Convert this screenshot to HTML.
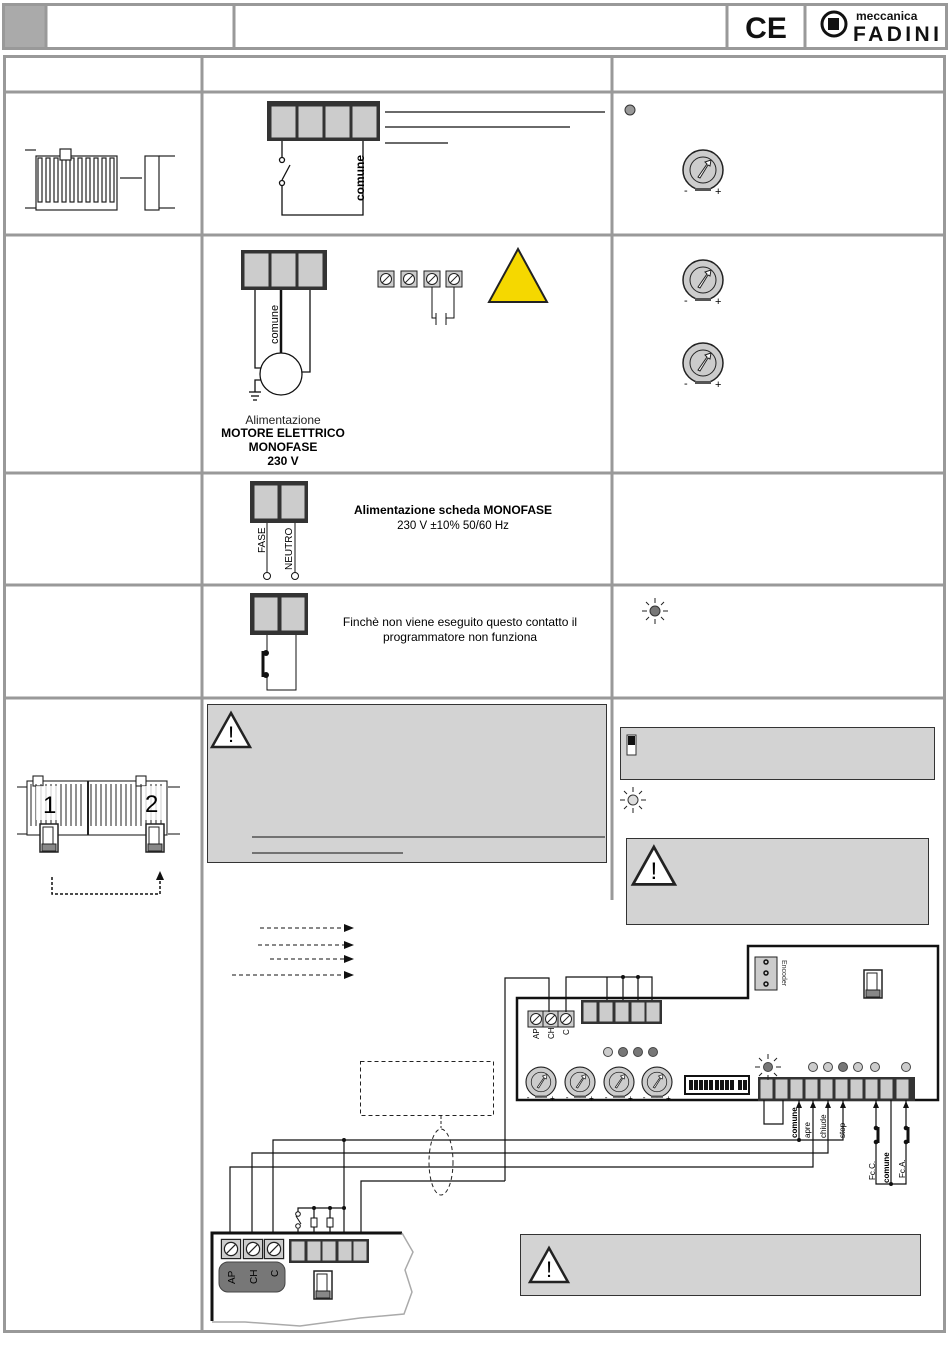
<!DOCTYPE html>
<html><head><meta charset="utf-8"><style>
html,body{margin:0;padding:0;background:#fff}
svg{display:block}
text{font-family:"Liberation Sans",sans-serif}
</style></head><body>
<svg width="950" height="1360" viewBox="0 0 950 1360" xmlns="http://www.w3.org/2000/svg">
<defs>
<g id="trim">
<circle r="20" fill="#ccc" stroke="#222" stroke-width="1.5"/>
<circle r="13" fill="#ccc" stroke="#222" stroke-width="1"/>
<path d="M-5,7 L4,-6 L2,-8 L8,-10 L7,-4 L5,-5 L-3,8 Z" fill="#fff" stroke="#222" stroke-width="1"/>
<rect x="-8" y="18" width="16" height="3" fill="#555"/>
<text x="-19" y="24" font-size="11">-</text><text x="12" y="25" font-size="11">+</text>
</g>
<g id="screw"><rect x="-8" y="-8" width="16" height="16" fill="#ccc" stroke="#222"/><circle r="5.5" fill="#fff" stroke="#222"/><line x1="-4" y1="4" x2="4" y2="-4" stroke="#222"/></g>
<g id="rays" stroke="#222" stroke-width="1"><line x1="-13" y1="0" x2="-8" y2="0"/><line x1="8" y1="0" x2="13" y2="0"/><line x1="-9" y1="-9" x2="-6" y2="-6"/><line x1="9" y1="-9" x2="6" y2="-6"/><line x1="-9" y1="9" x2="-6" y2="6"/><line x1="9" y1="9" x2="6" y2="6"/><line x1="0" y1="-13" x2="0" y2="-8"/><line x1="0" y1="13" x2="0" y2="8"/></g>
<g id="motorsym"><rect x="0" y="0" width="18" height="28" fill="#fff" stroke="#222" stroke-width="1.5"/><rect x="3" y="3" width="10" height="18" fill="none" stroke="#222"/><rect x="2" y="20" width="14" height="7" fill="#888" stroke="#222"/></g>
<g id="warn"><path d="M19,0 L38,34 L0,34 Z" fill="#fff" stroke="#222" stroke-width="2.5"/><text x="19" y="29" font-size="22" text-anchor="middle">!</text></g>
</defs>

<rect x="2" y="3" width="44" height="46" fill="#aaa"/>
<rect x="3.5" y="4.5" width="943" height="44" fill="none" stroke="#999" stroke-width="3"/>
<line x1="46" y1="4" x2="46" y2="48" stroke="#999" stroke-width="3"/>
<line x1="234" y1="4" x2="234" y2="48" stroke="#999" stroke-width="3"/>
<line x1="727" y1="4" x2="727" y2="48" stroke="#999" stroke-width="3"/>
<line x1="805" y1="4" x2="805" y2="48" stroke="#999" stroke-width="3"/>
<text x="766" y="38" font-size="30" text-anchor="middle" font-weight="bold" fill="#111">CE</text>
<circle cx="834" cy="24" r="12" fill="#fff" stroke="#111" stroke-width="3"/>
<rect x="828" y="18" width="11" height="12" fill="#111"/>
<text x="856" y="20" font-size="12" font-weight="bold" fill="#111">meccanica</text>
<text x="853" y="41" font-size="21" font-weight="bold" fill="#111" textLength="86" lengthAdjust="spacing">FADINI</text>

<rect x="4.5" y="56.5" width="940" height="1275" fill="none" stroke="#999" stroke-width="3"/>
<g stroke="#999" stroke-width="3">
<line x1="202" y1="56" x2="202" y2="1332"/>
<line x1="612" y1="56" x2="612" y2="900"/>
<line x1="4" y1="92" x2="945" y2="92"/>
<line x1="4" y1="235" x2="945" y2="235"/>
<line x1="4" y1="473" x2="945" y2="473"/>
<line x1="4" y1="585" x2="945" y2="585"/>
<line x1="4" y1="698" x2="945" y2="698"/>
</g>

<g stroke="#222" fill="#fff" stroke-width="1.2">
<line x1="25" y1="150" x2="36" y2="150"/><line x1="25" y1="208" x2="36" y2="208"/>
<rect x="36" y="156" width="81" height="54"/>
<rect x="38" y="158" width="4" height="44"/><rect x="46" y="158" width="4" height="44"/><rect x="54" y="158" width="4" height="44"/><rect x="62" y="158" width="4" height="44"/><rect x="70" y="158" width="4" height="44"/><rect x="78" y="158" width="4" height="44"/><rect x="86" y="158" width="4" height="44"/><rect x="94" y="158" width="4" height="44"/><rect x="102" y="158" width="4" height="44"/><rect x="110" y="158" width="4" height="44"/>
<rect x="60" y="149" width="11" height="11"/>
<rect x="145" y="156" width="14" height="54"/>
<line x1="159" y1="156" x2="175" y2="156"/><line x1="159" y1="208" x2="175" y2="208"/>
<line x1="120" y1="178" x2="142" y2="178"/>
</g>
<rect x="267" y="101" width="113" height="40" fill="#333"/>
<g fill="#ccc" stroke="#333"><rect x="271" y="106" width="25" height="32"/><rect x="298" y="106" width="25" height="32"/><rect x="325" y="106" width="25" height="32"/><rect x="352" y="106" width="25" height="32"/></g>
<g stroke="#111" stroke-width="1.3" fill="none">
<line x1="385" y1="112" x2="605" y2="112"/><line x1="385" y1="127" x2="570" y2="127"/><line x1="385" y1="143" x2="448" y2="143"/>
<polyline points="282,141 282,157"/><circle cx="282" cy="160" r="2.5"/><line x1="282" y1="180" x2="290" y2="165"/><circle cx="282" cy="183" r="2.5"/>
<polyline points="282,186 282,215 363,215 363,141"/>
</g>
<text transform="translate(364,201) rotate(-90)" font-size="12" font-weight="bold">comune</text>
<circle cx="630" cy="110" r="5" fill="#999" stroke="#333"/>
<use href="#trim" x="703" y="170"/>

<rect x="241" y="250" width="86" height="40" fill="#333"/>
<g fill="#ccc" stroke="#333"><rect x="244" y="253" width="25" height="34"/><rect x="271" y="253" width="25" height="34"/><rect x="298" y="253" width="25" height="34"/></g>
<g stroke="#111" stroke-width="1.3" fill="none">
<polyline points="255,290 255,368 261,368"/><line x1="281" y1="290" x2="281" y2="353" stroke-width="2.5"/><polyline points="310,290 310,372 302,372"/>
<circle cx="281" cy="374" r="21" fill="#fff"/>
<polyline points="261,380 255,380 255,392"/><line x1="249" y1="392" x2="261" y2="392"/><line x1="251" y1="396" x2="259" y2="396"/><line x1="253" y1="400" x2="257" y2="400"/>
</g>
<text transform="translate(278,344) rotate(-90)" font-size="11">comune</text>
<text x="283" y="424" font-size="12" text-anchor="middle" fill="#222">Alimentazione</text>
<text x="283" y="437" font-size="12" text-anchor="middle" font-weight="bold">MOTORE ELETTRICO</text>
<text x="283" y="451" font-size="12" text-anchor="middle" font-weight="bold">MONOFASE</text>
<text x="283" y="465" font-size="12" text-anchor="middle" font-weight="bold">230 V</text>
<use href="#screw" x="386" y="279"/><use href="#screw" x="409" y="279"/><use href="#screw" x="432" y="279"/><use href="#screw" x="454" y="279"/>
<g stroke="#111" fill="none"><polyline points="432,287 432,318 436,318"/><polyline points="454,287 454,318 446,318"/><line x1="436" y1="313" x2="436" y2="325"/><line x1="446" y1="313" x2="446" y2="325"/></g>
<path d="M518,249 L547,302 L489,302 Z" fill="#f5d800" stroke="#222" stroke-width="2"/>
<use href="#trim" x="703" y="280"/>
<use href="#trim" x="703" y="363"/>

<rect x="250" y="481" width="58" height="42" fill="#333"/>
<g fill="#ccc" stroke="#333"><rect x="254" y="485" width="24" height="34"/><rect x="281" y="485" width="24" height="34"/></g>
<g stroke="#111" fill="#fff"><line x1="267" y1="523" x2="267" y2="572"/><line x1="295" y1="523" x2="295" y2="572"/><circle cx="267" cy="576" r="3.5"/><circle cx="295" cy="576" r="3.5"/></g>
<text transform="translate(265,553) rotate(-90)" font-size="10">FASE</text>
<text transform="translate(292,570) rotate(-90)" font-size="10">NEUTRO</text>
<text x="453" y="514" font-size="12" text-anchor="middle" font-weight="bold">Alimentazione scheda MONOFASE</text>
<text x="453" y="529" font-size="11.5" text-anchor="middle">230 V ±10% 50/60 Hz</text>

<rect x="250" y="593" width="58" height="42" fill="#333"/>
<g fill="#ccc" stroke="#333"><rect x="254" y="597" width="24" height="34"/><rect x="281" y="597" width="24" height="34"/></g>
<g stroke="#111" fill="none"><line x1="267" y1="635" x2="267" y2="651"/><polyline points="267,676 267,690 296,690 296,635"/></g>
<line x1="263" y1="651" x2="263" y2="677" stroke="#111" stroke-width="3"/>
<circle cx="266" cy="653" r="3" fill="#111"/><circle cx="266" cy="675" r="3" fill="#111"/>
<text x="460" y="626" font-size="12" text-anchor="middle">Finchè non viene eseguito questo contatto il</text>
<text x="460" y="641" font-size="12" text-anchor="middle">programmatore non funziona</text>
<use href="#rays" x="655" y="611"/><circle cx="655" cy="611" r="5" fill="#777" stroke="#333"/>

<rect x="207.5" y="704.5" width="399" height="158" fill="#d3d3d3" stroke="#333"/>
<use href="#warn" x="212" y="713"/>
<line x1="252" y1="837" x2="605" y2="837" stroke="#111"/><line x1="252" y1="853" x2="403" y2="853" stroke="#111"/>
<rect x="620.5" y="727.5" width="314" height="52" fill="#d3d3d3" stroke="#333"/>
<rect x="627" y="735" width="9" height="20" fill="#fff" stroke="#333"/><rect x="628" y="736" width="7" height="9" fill="#111"/>
<use href="#rays" x="633" y="800"/><circle cx="633" cy="800" r="5" fill="#ddd" stroke="#333"/>
<rect x="626.5" y="838.5" width="302" height="86" fill="#d3d3d3" stroke="#333"/>
<use href="#warn" transform="translate(633,847) scale(1.1)"/>
<g stroke="#222" fill="#fff" stroke-width="1.1">
<line x1="17" y1="787" x2="28" y2="787"/><line x1="17" y1="834" x2="28" y2="834"/>
<line x1="168" y1="787" x2="180" y2="787"/><line x1="168" y1="834" x2="180" y2="834"/>
<rect x="27" y="781" width="140" height="54"/>
<line x1="88" y1="781" x2="88" y2="835" stroke-width="2"/>
<rect x="33" y="776" width="10" height="10"/><rect x="136" y="776" width="10" height="10"/>
</g>
<g stroke="#222" fill="none"><path d="M31,784v42M36,784v42M41,784v42M46,784v42M51,784v42M56,784v42M61,784v42M66,784v42M71,784v42M76,784v42M81,784v42M91,784v42M96,784v42M101,784v42M106,784v42M111,784v42M116,784v42M121,784v42M126,784v42M131,784v42M136,784v42M141,784v42M146,784v42M151,784v42M156,784v42M161,784v42"/></g>
<rect x="36" y="786" width="24" height="34" fill="#fff" opacity=".8"/><rect x="142" y="786" width="24" height="34" fill="#fff" opacity=".8"/>
<text x="43" y="813" font-size="24">1</text><text x="145" y="812" font-size="24">2</text>
<use href="#motorsym" x="40" y="824"/><use href="#motorsym" x="146" y="824"/>
<polyline points="52,877 52,894 160,894 160,880" fill="none" stroke="#111" stroke-width="1.5" stroke-dasharray="3,2"/>
<path d="M160,871 L156,880 L164,880 Z" fill="#111"/>
<g stroke="#111" stroke-dasharray="4,3"><line x1="260" y1="928" x2="344" y2="928"/><line x1="258" y1="945" x2="344" y2="945"/><line x1="270" y1="959" x2="344" y2="959"/><line x1="232" y1="975" x2="344" y2="975"/></g>
<g fill="#111"><path d="M344,924 L354,928 L344,932Z"/><path d="M344,941 L354,945 L344,949Z"/><path d="M344,955 L354,959 L344,963Z"/><path d="M344,971 L354,975 L344,979Z"/></g>

<polygon points="517,998 748,998 748,946 938,946 938,1100 517,1100" fill="#fff" stroke="#111" stroke-width="2.5"/>
<rect x="755" y="957" width="22" height="33" fill="#ccc" stroke="#222"/>
<circle cx="766" cy="962" r="2" fill="none" stroke="#111" stroke-width="1.5"/><circle cx="766" cy="973" r="2" fill="none" stroke="#111" stroke-width="1.5"/><circle cx="766" cy="984" r="2" fill="none" stroke="#111" stroke-width="1.5"/>
<text transform="translate(782,960) rotate(90)" font-size="7" fill="#333">Encoder</text>
<use href="#motorsym" x="864" y="970"/>
<rect x="581" y="1000" width="81" height="24" fill="#333"/>
<g fill="#ccc" stroke="#333"><rect x="583" y="1002" width="14" height="20"/><rect x="599" y="1002" width="14" height="20"/><rect x="615" y="1002" width="14" height="20"/><rect x="631" y="1002" width="14" height="20"/><rect x="646" y="1002" width="14" height="20"/></g>
<use href="#screw" x="536" y="1019"/><use href="#screw" x="551" y="1019"/><use href="#screw" x="566" y="1019"/>
<text transform="translate(539,1039) rotate(-90)" font-size="8">AP</text><text transform="translate(554,1039) rotate(-90)" font-size="8">CH</text><text transform="translate(569,1035) rotate(-90)" font-size="8">C</text>
<circle cx="608" cy="1052" r="4.5" fill="#ccc" stroke="#444"/>
<g fill="#777" stroke="#444"><circle cx="623" cy="1052" r="4.5"/><circle cx="638" cy="1052" r="4.5"/><circle cx="653" cy="1052" r="4.5"/></g>
<use href="#trim" transform="translate(541,1082) scale(0.75)"/><use href="#trim" transform="translate(580,1082) scale(0.75)"/><use href="#trim" transform="translate(619,1082) scale(0.75)"/><use href="#trim" transform="translate(657,1082) scale(0.75)"/>
<rect x="685" y="1076" width="64" height="18" fill="#fff" stroke="#111" stroke-width="2"/>
<g fill="#111"><rect x="689" y="1080" width="4" height="10"/><rect x="694" y="1080" width="4" height="10"/><rect x="699" y="1080" width="4" height="10"/><rect x="704" y="1080" width="4" height="10"/><rect x="709" y="1080" width="4" height="10"/><rect x="715" y="1080" width="4" height="10"/><rect x="720" y="1080" width="4" height="10"/><rect x="725" y="1080" width="4" height="10"/><rect x="730" y="1080" width="4" height="10"/><rect x="738" y="1080" width="4" height="10"/><rect x="743" y="1080" width="4" height="10"/></g>
<rect x="758" y="1077" width="157" height="24" fill="#333"/>
<g fill="#ccc" stroke="#333"><rect x="760" y="1079" width="13" height="20"/><rect x="775" y="1079" width="13" height="20"/><rect x="790" y="1079" width="13" height="20"/><rect x="805" y="1079" width="13" height="20"/><rect x="820" y="1079" width="13" height="20"/><rect x="835" y="1079" width="13" height="20"/><rect x="850" y="1079" width="13" height="20"/><rect x="865" y="1079" width="13" height="20"/><rect x="880" y="1079" width="13" height="20"/><rect x="896" y="1079" width="13" height="20"/></g>
<use href="#rays" x="768" y="1067"/><circle cx="768" cy="1067" r="4.5" fill="#777" stroke="#444"/>
<g fill="#ccc" stroke="#444"><circle cx="813" cy="1067" r="4.5"/><circle cx="828" cy="1067" r="4.5"/><circle cx="858" cy="1067" r="4.5"/><circle cx="875" cy="1067" r="4.5"/><circle cx="906" cy="1067" r="4.5"/></g>
<circle cx="843" cy="1067" r="4.5" fill="#777" stroke="#444"/>

<g stroke="#111" stroke-width="1.2" fill="none">
<polyline points="764,1100 764,1124 783,1124 783,1100"/>
<polyline points="799,1100 799,1140"/>
<polyline points="813,1100 813,1167 230,1167 230,1245"/>
<polyline points="828,1100 828,1153 252,1153 252,1245"/>
<polyline points="843,1100 843,1140 273,1140 273,1245"/>
<polyline points="876,1100 876,1184 906,1184 906,1100"/>
<polyline points="505,1181 505,978 549,978 549,1012"/>
<polyline points="361,1239 361,1181 505,1181"/>
<polyline points="566,1012 566,977 652,977 652,1000"/>
<line x1="607" y1="977" x2="607" y2="1000"/><line x1="623" y1="977" x2="623" y2="1000"/><line x1="638" y1="977" x2="638" y2="1000"/>
<polyline points="344,1140 344,1239"/>
<polyline points="298,1239 298,1208 344,1208"/>
<line x1="314" y1="1208" x2="314" y2="1239"/><line x1="330" y1="1208" x2="330" y2="1239"/>
</g>
<rect x="311" y="1218" width="6" height="9" fill="#fff" stroke="#111"/><rect x="327" y="1218" width="6" height="9" fill="#fff" stroke="#111"/>
<rect x="294" y="1213" width="8" height="16" fill="#fff"/><circle cx="298" cy="1214" r="2.3" fill="#fff" stroke="#111"/><circle cx="298" cy="1226" r="2.3" fill="#fff" stroke="#111"/><line x1="296" y1="1216" x2="301" y2="1224" stroke="#111"/>
<g fill="#111"><circle cx="344" cy="1140" r="2"/><circle cx="799" cy="1140" r="2"/><circle cx="314" cy="1208" r="2"/><circle cx="330" cy="1208" r="2"/><circle cx="344" cy="1208" r="2"/><circle cx="623" cy="977" r="2"/><circle cx="638" cy="977" r="2"/><circle cx="891" cy="1184" r="2"/>
<path d="M799,1101 l-3,7 h6z"/><path d="M813,1101 l-3,7 h6z"/><path d="M828,1101 l-3,7 h6z"/><path d="M843,1101 l-3,7 h6z"/><path d="M876,1101 l-3,7 h6z"/><path d="M906,1101 l-3,7 h6z"/></g>
<line x1="891" y1="1100" x2="891" y2="1184" stroke="#111" stroke-width="1.2"/>
<rect x="874" y="1126" width="4" height="18" fill="#fff"/><rect x="904" y="1126" width="4" height="18" fill="#fff"/>
<line x1="878" y1="1127" x2="878" y2="1143" stroke="#111" stroke-width="3"/><line x1="908" y1="1127" x2="908" y2="1143" stroke="#111" stroke-width="3"/>
<g fill="#111"><circle cx="876" cy="1128" r="2.3"/><circle cx="876" cy="1142" r="2.3"/><circle cx="906" cy="1128" r="2.3"/><circle cx="906" cy="1142" r="2.3"/></g>
<g font-size="8">
<text transform="translate(797,1138) rotate(-90)" font-weight="bold">comune</text>
<text transform="translate(810,1138) rotate(-90)">apre</text>
<text transform="translate(826,1138) rotate(-90)">chiude</text>
<text transform="translate(845,1138) rotate(-90)">stop</text>
<text transform="translate(875,1180) rotate(-90)">Fc.C.</text>
<text transform="translate(889,1183) rotate(-90)" font-weight="bold">comune</text>
<text transform="translate(905,1178) rotate(-90)">Fc.A.</text>
</g>
<rect x="360.5" y="1061.5" width="133" height="54" fill="none" stroke="#222" stroke-dasharray="4,3"/>
<line x1="441" y1="1116" x2="441" y2="1128" stroke="#222" stroke-dasharray="3,2"/>
<ellipse cx="441" cy="1162" rx="12" ry="33" fill="none" stroke="#222" stroke-dasharray="4,3"/>

<path d="M212,1321 L212,1233 L402,1233 L413,1252 L405,1270 L412,1292 L404,1314 L300,1325 L245,1323 Z" fill="#fff" stroke="none"/>
<polyline points="212,1321 212,1233 402,1233" fill="none" stroke="#111" stroke-width="3"/>
<polyline points="402,1233 413,1252 405,1270 412,1292 404,1314 360,1318 300,1326 245,1322 212,1322" fill="none" stroke="#aaa" stroke-width="1.5"/>
<use href="#screw" transform="translate(231,1249) scale(1.2)"/><use href="#screw" transform="translate(253,1249) scale(1.2)"/><use href="#screw" transform="translate(274,1249) scale(1.2)"/>
<rect x="289" y="1239" width="80" height="24" fill="#333"/>
<g fill="#ccc" stroke="#333"><rect x="291" y="1241" width="14" height="20"/><rect x="307" y="1241" width="14" height="20"/><rect x="322" y="1241" width="14" height="20"/><rect x="338" y="1241" width="14" height="20"/><rect x="353" y="1241" width="14" height="20"/></g>
<rect x="219" y="1262" width="66" height="30" rx="9" fill="#777" stroke="#444"/>
<text transform="translate(235,1284) rotate(-90)" font-size="10">AP</text><text transform="translate(257,1284) rotate(-90)" font-size="10">CH</text><text transform="translate(278,1277) rotate(-90)" font-size="10">C</text>
<use href="#motorsym" x="314" y="1271"/>
<rect x="520.5" y="1234.5" width="400" height="61" fill="#d3d3d3" stroke="#333"/>
<use href="#warn" x="530" y="1248"/>
</svg>
</body></html>
